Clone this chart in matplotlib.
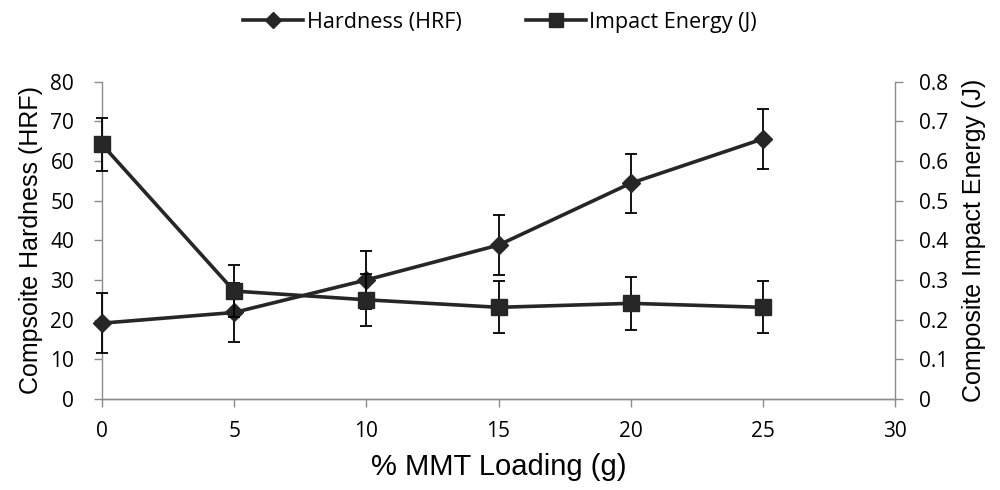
import matplotlib.pyplot as plt
from matplotlib.lines import Line2D
import numpy as np

# ======= DATA =======
loading = [0, 5, 10, 15, 20, 25]
hardness = [19.1, 21.8, 30.0, 38.8, 54.4, 65.6]
hardness_err = [7.5, 7.5, 7.4, 7.6, 7.5, 7.5]
impact = [0.642, 0.272, 0.250, 0.231, 0.241, 0.231]
impact_err = [0.066, 0.066, 0.066, 0.066, 0.066, 0.066]

line_color = '#262626'
spine_color = '#8c8c8c'
tick_font = 'Open Sans'
label_font = 'Liberation Sans'

fig = plt.figure(figsize=(10, 4.9), dpi=100)
ax = fig.add_axes([0.102, 0.186, 0.793, 0.647])
ax2 = ax.twinx()

# hardness on left axis
eb1 = ax.errorbar(loading, hardness, yerr=hardness_err, color=line_color, lw=2.6,
                  marker='D', markersize=9, ecolor='black', elinewidth=1.3,
                  capsize=4, capthick=1.3, zorder=3)
# impact energy on right axis
eb2 = ax2.errorbar(loading, impact, yerr=impact_err, color=line_color, lw=2.6,
                   marker='s', markersize=12, ecolor='black', elinewidth=1.3,
                   capsize=4, capthick=1.3, zorder=3)
for eb in (eb1, eb2):
    for art in eb.get_children():
        art.set_clip_on(False)

ax.set_xlim(0, 30)
ax.set_ylim(0, 80)
ax2.set_ylim(0, 0.8)
ax.set_xticks(np.arange(0, 31, 5))
ax.set_yticks(np.arange(0, 81, 10))
ax2.set_yticks(np.arange(0, 0.81, 0.1))
ax2.set_yticklabels(['0'] + [f'{v:.1f}' for v in np.arange(0.1, 0.81, 0.1)])

for a in (ax, ax2):
    a.spines['top'].set_visible(False)
    for s in ('left', 'right', 'bottom'):
        a.spines[s].set_color(spine_color)
        a.spines[s].set_linewidth(1.0)
    a.tick_params(axis='both', colors=spine_color, length=6, width=1.0,
                  labelcolor='black', labelsize=15)
    for lbl in a.get_xticklabels() + a.get_yticklabels():
        lbl.set_fontfamily(tick_font)
ax.spines['right'].set_visible(False)
ax2.spines['left'].set_visible(False)
ax.tick_params(axis='y', pad=14)
ax.tick_params(axis='x', pad=10)
ax2.tick_params(axis='y', pad=11)

ax.set_xlabel('% MMT Loading (g)', fontsize=21, family=label_font, labelpad=8)
ax.set_ylabel('Compsoite Hardness (HRF)', fontsize=18, family=label_font, labelpad=5)
ax2.set_ylabel('Composite Impact Energy (J)', fontsize=18, family=label_font, labelpad=10)

handles = [
    Line2D([], [], color=line_color, lw=2.6, marker='D', markersize=8),
    Line2D([], [], color=line_color, lw=2.6, marker='s', markersize=10),
]
fig.legend(handles, ['Hardness (HRF)', 'Impact Energy (J)'], loc='upper center',
           bbox_to_anchor=(0.5, 1.015), ncol=2, frameon=False,
           prop={'family': tick_font, 'size': 15.5},
           handlelength=2.8, handletextpad=0.15, columnspacing=3.0)

fig.savefig('out.png', dpi=100)
